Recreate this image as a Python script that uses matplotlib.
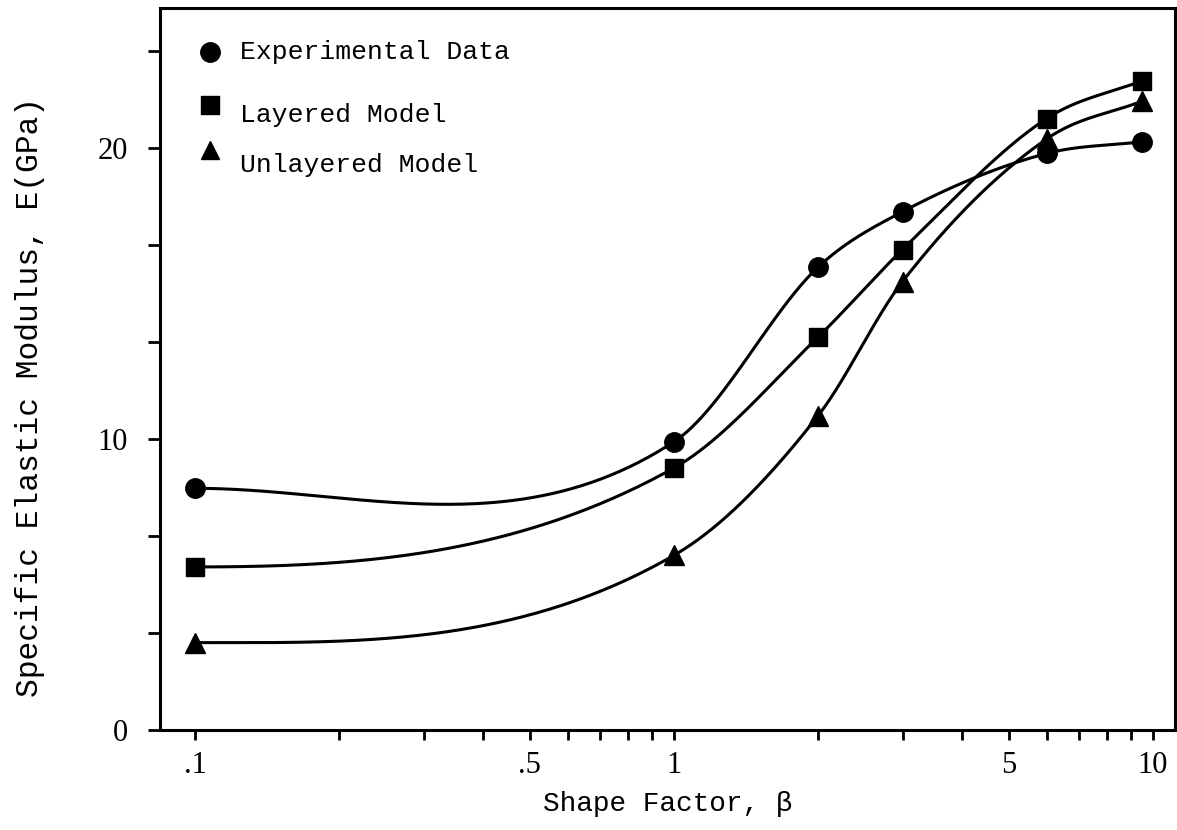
import numpy as np
import matplotlib
matplotlib.use("Agg")
from matplotlib import pyplot as plt
from matplotlib.ticker import FixedLocator, NullFormatter

# shape factor and specific modulus (GPa) for each series
beta = [0.1, 1.0, 2.0, 3.0, 6.0, 9.5]
E_experimental = [8.3, 9.9, 15.9, 17.8, 19.8, 20.2]
E_layered = [5.6, 9.0, 13.5, 16.5, 21.0, 22.3]
E_unlayered = [3.0, 6.0, 10.8, 15.4, 20.3, 21.6]

legend_labels = ["Experimental Data", "Layered Model", "Unlayered Model"]
xtick_vals = [0.1, 0.5, 1, 5, 10]
xtick_text = [".1", ".5", "1", "5", "10"]
ytick_vals = [0, 10, 20]
ytick_text = ["0", "10", "20"]

MONO = "Liberation Mono"
SERIF = "Liberation Serif"


def smooth_curve(xs, ys, n=150):
	# cubic hermite through the points in log(x); slopes = mean of the
	# neighbouring secants, flat start, last secant at the end
	u = np.log10(np.asarray(xs, dtype=float))
	y = np.asarray(ys, dtype=float)
	h = np.diff(u)
	s = np.diff(y) / h
	m = np.empty_like(y)
	m[0] = 0.0
	m[-1] = s[-1]
	m[1:-1] = (s[:-1] + s[1:]) / 2
	t = np.linspace(0, 1, n)
	h00 = 2 * t**3 - 3 * t**2 + 1
	h10 = t**3 - 2 * t**2 + t
	h01 = -2 * t**3 + 3 * t**2
	h11 = t**3 - t**2
	uu_all, yy_all = [], []
	for i in range(len(h)):
		yy = h00 * y[i] + h10 * h[i] * m[i] + h01 * y[i + 1] + h11 * h[i] * m[i + 1]
		uu_all.append(u[i] + t * h[i])
		yy_all.append(yy)
	return 10 ** np.concatenate(uu_all), np.concatenate(yy_all)


fig = plt.figure(figsize=(11.77, 8.30), dpi=100)
ax = fig.add_axes([0.136, 0.1205, 0.862, 0.870])

series = [
	(E_experimental, "o", 14),
	(E_layered, "s", 13),
	(E_unlayered, "^", 14),
]
for vals, mk, ms in series:
	cx, cy = smooth_curve(beta, vals)
	ax.plot(cx, cy, color="black", lw=2.2, solid_capstyle="round")
	ax.plot(beta, vals, linestyle="none", marker=mk, ms=ms, color="black")

ax.set_xscale("log")
ax.set_xlim(0.0845, 11.1)
ax.set_ylim(0, 24.8)

ax.xaxis.set_major_locator(FixedLocator(xtick_vals))
ax.set_xticklabels(xtick_text, fontfamily=SERIF, fontsize=22)
minor_x = [v * d for d in (0.1, 1) for v in range(2, 10) if v != 5]
ax.xaxis.set_minor_locator(FixedLocator(minor_x))
ax.xaxis.set_minor_formatter(NullFormatter())

ax.yaxis.set_major_locator(FixedLocator(ytick_vals))
ax.set_yticklabels(ytick_text, fontfamily=SERIF, fontsize=22)
ax.yaxis.set_minor_locator(FixedLocator([10 / 3 * k for k in range(1, 8) if k % 3]))

ax.tick_params(axis="x", which="both", direction="out", length=7, width=2, pad=8)
ax.tick_params(axis="y", which="both", direction="out", length=9, width=2, pad=14)
ax.tick_params(top=False, right=False)

for side in ["left", "bottom", "top", "right"]:
	ax.spines[side].set_linewidth(2.2)

ax.set_xlabel("Shape Factor, β", fontfamily=MONO, fontsize=20, labelpad=8)
ax.set_ylabel("Specific Elastic Modulus, E(GPa)", fontfamily=MONO, fontsize=22.5)
ax.yaxis.set_label_coords(-0.113, 0.461)

# hand-placed key in the upper left
key_marks = [("o", 14, 0.939), ("s", 13, 0.866), ("^", 13, 0.803)]
key_text_y = [0.939, 0.852, 0.783]
for (mk, ms, my), label, ty in zip(key_marks, legend_labels, key_text_y):
	ax.plot([0.049], [my], marker=mk, ms=ms, color="black", transform=ax.transAxes,
		clip_on=False, linestyle="none")
	ax.text(0.079, ty, label, transform=ax.transAxes, fontfamily=MONO, fontsize=19,
		va="center", ha="left")

plt.savefig("out.png", dpi=100, facecolor="white")
